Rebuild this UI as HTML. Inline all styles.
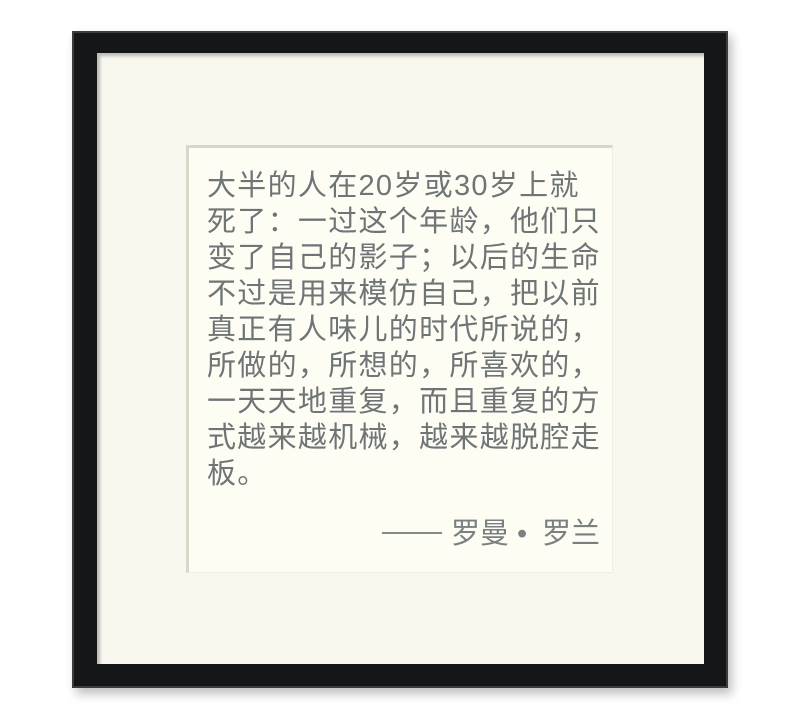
<!DOCTYPE html>
<html><head><meta charset="utf-8">
<style>
html,body{margin:0;padding:0;background:#fff;}
body{width:800px;height:720px;position:relative;overflow:hidden;font-family:"Liberation Sans","Noto Sans CJK SC",sans-serif;}
#shadow{position:absolute;left:76px;top:36px;width:656px;height:658px;background:rgba(0,0,0,0.25);filter:blur(5px);}
#frame{position:absolute;left:72px;top:31px;width:656px;height:657px;background:#141618;box-sizing:border-box;border:2px solid #3a3d40;}
#mat{position:absolute;left:97px;top:53px;width:607px;height:611px;background:#f8f8ef;box-shadow:inset 3px 3px 3px rgba(0,0,0,0.25);}
#box{position:absolute;left:186px;top:145px;width:427px;height:428px;background:#fdfdf3;box-sizing:border-box;border-left:3px solid #d8d8c8;border-top:3px solid #d8d8c8;border-right:1px solid #efefe3;border-bottom:1px solid #efefe3;}
.l{position:absolute;left:207px;font-size:29px;line-height:29px;color:#6f7477;white-space:nowrap;letter-spacing:1.3px;}
.a{position:absolute;font-size:29px;line-height:29px;color:#7a7f82;white-space:nowrap;}
#dash{position:absolute;left:382px;top:532px;width:60px;height:2px;background:#858a8d;}
</style></head><body>
<div id="shadow"></div>
<div id="frame"></div>
<div id="mat"></div>
<div id="box"></div>
<div class="l" style="top:172px">大半的人在20岁或30岁上就</div>
<div class="l" style="top:208px">死了：一过这个年龄，他们只</div>
<div class="l" style="top:244px">变了自己的影子；以后的生命</div>
<div class="l" style="top:280px">不过是用来模仿自己，把以前</div>
<div class="l" style="top:316px">真正有人味儿的时代所说的，</div>
<div class="l" style="top:352px">所做的，所想的，所喜欢的，</div>
<div class="l" style="top:388px">一天天地重复，而且重复的方</div>
<div class="l" style="top:424px">式越来越机械，越来越脱腔走</div>
<div class="l" style="top:460px">板。</div>
<div id="dash"></div>
<div class="a" style="left:451px;top:520px">罗曼</div>
<div class="a" style="left:517px;top:520px">•</div>
<div class="a" style="left:542px;top:520px">罗兰</div>
</body></html>
